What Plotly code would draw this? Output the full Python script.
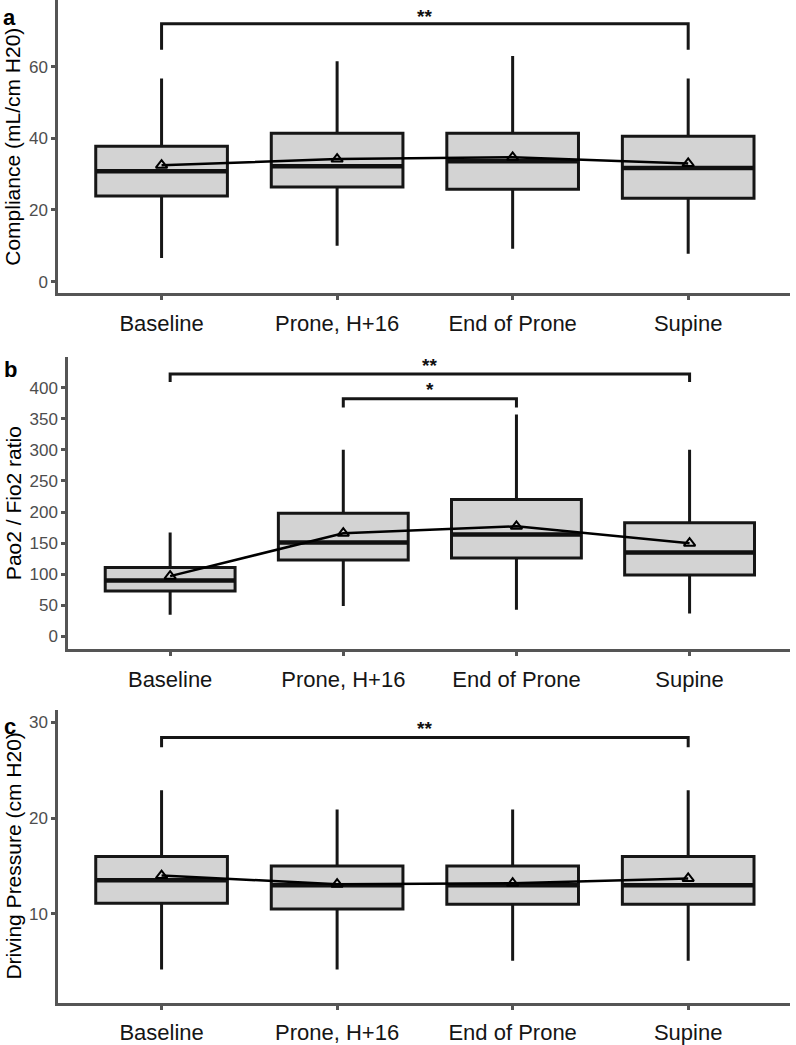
import plotly.graph_objects as go

categories = ["Baseline", "Prone, H+16", "End of Prone", "Supine"]

# Panel a: Compliance (mL/cm H20)
a_low = [6.6, 10.0, 9.2, 7.8]
a_q1 = [23.9, 26.4, 25.8, 23.3]
a_med = [30.8, 32.2, 33.6, 31.7]
a_q3 = [37.8, 41.4, 41.4, 40.6]
a_high = [56.7, 61.5, 63.0, 56.7]
a_mean = [32.5, 34.2, 34.7, 33.0]

# Panel b: Pao2 / Fio2 ratio
b_low = [35, 49, 43, 37]
b_q1 = [73, 123, 126, 99]
b_med = [90, 151, 164, 135]
b_q3 = [111, 198, 220, 183]
b_high = [167, 300, 357, 300]
b_mean = [97, 166, 177, 150]

# Panel c: Driving Pressure (cm H20)
c_low = [4.2, 4.2, 5.1, 5.1]
c_q1 = [11.1, 10.5, 11.0, 11.0]
c_med = [13.5, 13.0, 13.0, 13.0]
c_q3 = [16.0, 15.0, 15.0, 16.0]
c_high = [22.9, 20.9, 20.9, 22.9]
c_mean = [14.0, 13.1, 13.2, 13.7]

# significance brackets: (from, to, bar level, tick bottom, label, label level)
a_brackets = [("Baseline", "Supine", 72.0, 64.7, "**", 74.0)]
b_brackets = [("Baseline", "Supine", 422, 409, "**", 436),
              ("Prone, H+16", "End of Prone", 382, 368, "*", 397)]
c_brackets = [("Baseline", "Supine", 28.4, 27.4, "**", 29.3)]

W, H = 796, 1045

panels = [
    dict(low=a_low, q1=a_q1, med=a_med, q3=a_q3, high=a_high, mean=a_mean,
         br=a_brackets, title="Compliance (mL/cm H20)", letter="a",
         yrange=[-3.3, 78.6], ticks=[0, 20, 40, 60],
         xdom=[58 / W, 790 / W], ydom=[1 - 296 / H, 1.0], title_x=13,
         letter_xy=(9, 18)),
    dict(low=b_low, q1=b_q1, med=b_med, q3=b_q3, high=b_high, mean=b_mean,
         br=b_brackets, title="Pao2 / Fio2 ratio", letter="b",
         yrange=[-20.7, 449.4], ticks=list(range(0, 401, 50)),
         xdom=[68 / W, 790 / W], ydom=[1 - 655 / H, 1 - 360 / H], title_x=13,
         letter_xy=(10, 373)),
    dict(low=c_low, q1=c_q1, med=c_med, q3=c_q3, high=c_high, mean=c_mean,
         br=c_brackets, title="Driving Pressure (cm H20)", letter="c",
         yrange=[0.67, 31.3], ticks=[10, 20, 30],
         xdom=[58 / W, 790 / W], ydom=[1 - 1012 / H, 1 - 716 / H], title_x=14,
         letter_xy=(10, 733)),
]

FONT = "Liberation Sans, Arial, sans-serif"
fig = go.Figure()
annotations = []

for i, p in enumerate(panels):
    sfx = "" if i == 0 else str(i + 1)
    xa, ya = "x" + sfx, "y" + sfx
    fig.add_trace(go.Box(
        x=categories, q1=p["q1"], median=p["med"], q3=p["q3"],
        lowerfence=p["low"], upperfence=p["high"],
        width=0.75, whiskerwidth=0, boxpoints=False,
        fillcolor="#d3d3d3", line=dict(color="#161616", width=3),
        xaxis=xa, yaxis=ya, hoverinfo="skip"))
    # thicker median bar (collapsed box at the median)
    fig.add_trace(go.Box(
        x=categories, q1=p["med"], median=p["med"], q3=p["med"],
        lowerfence=p["med"], upperfence=p["med"],
        width=0.75, whiskerwidth=0, boxpoints=False,
        fillcolor="rgba(0,0,0,0)", line=dict(color="#111111", width=4.5),
        xaxis=xa, yaxis=ya, hoverinfo="skip"))
    fig.add_trace(go.Scatter(
        x=categories, y=p["mean"], mode="lines+markers",
        line=dict(color="#000000", width=2.5),
        marker=dict(symbol="triangle-up-open", size=10, color="#000000",
                    line=dict(width=2, color="#000000")),
        xaxis=xa, yaxis=ya, hoverinfo="skip"))
    for (c0, c1, lvl, bot, lab, tl) in p["br"]:
        fig.add_trace(go.Scatter(
            x=[c0, c0, c1, c1], y=[bot, lvl, lvl, bot], mode="lines",
            line=dict(color="#161616", width=3),
            xaxis=xa, yaxis=ya, hoverinfo="skip"))
        i0, i1 = categories.index(c0), categories.index(c1)
        annotations.append(dict(
            x=(i0 + i1) / 2, y=tl, xref=xa, yref=ya, text="<b>" + lab + "</b>",
            showarrow=False, font=dict(family=FONT, size=19, color="#111111"),
            xanchor="center", yanchor="middle"))
    annotations.append(dict(
        x=p["title_x"] / W, y=0.5, xref="paper", yref=ya + " domain",
        text=p["title"], textangle=-90, showarrow=False,
        font=dict(family=FONT, size=21, color="#000000"),
        xanchor="center", yanchor="middle"))
    lx, ly = p["letter_xy"]
    annotations.append(dict(
        x=lx / W, y=1 - ly / H, xref="paper", yref="paper",
        text="<b>" + p["letter"] + "</b>", showarrow=False,
        font=dict(family=FONT, size=22, color="#000000"),
        xanchor="center", yanchor="middle"))
    axcommon = dict(showline=True, linecolor="#555555", linewidth=2.5,
                    ticks="outside", tickcolor="#555555", ticklen=4, tickwidth=2.5,
                    showgrid=False, zeroline=False)
    fig.update_layout(**{
        "xaxis" + sfx: dict(domain=p["xdom"], anchor=ya, type="category",
                            range=[-0.59, 3.58], ticklabelstandoff=4,
                            tickfont=dict(family=FONT, size=22, color="#151515"),
                            **axcommon),
        "yaxis" + sfx: dict(domain=p["ydom"], anchor=xa, range=p["yrange"],
                            tickvals=p["ticks"],
                            tickfont=dict(family=FONT, size=17, color="#4d4d4d"),
                            **axcommon),
    })

fig.update_layout(
    width=W, height=H, margin=dict(l=0, r=0, t=0, b=0),
    paper_bgcolor="white", plot_bgcolor="white", showlegend=False,
    annotations=annotations)

fig.write_html(
    "out.html",
    config={"displayModeBar": False},
    post_script="document.body.style.margin='0';document.body.style.padding='0';"
                "document.documentElement.style.overflow='hidden';")
